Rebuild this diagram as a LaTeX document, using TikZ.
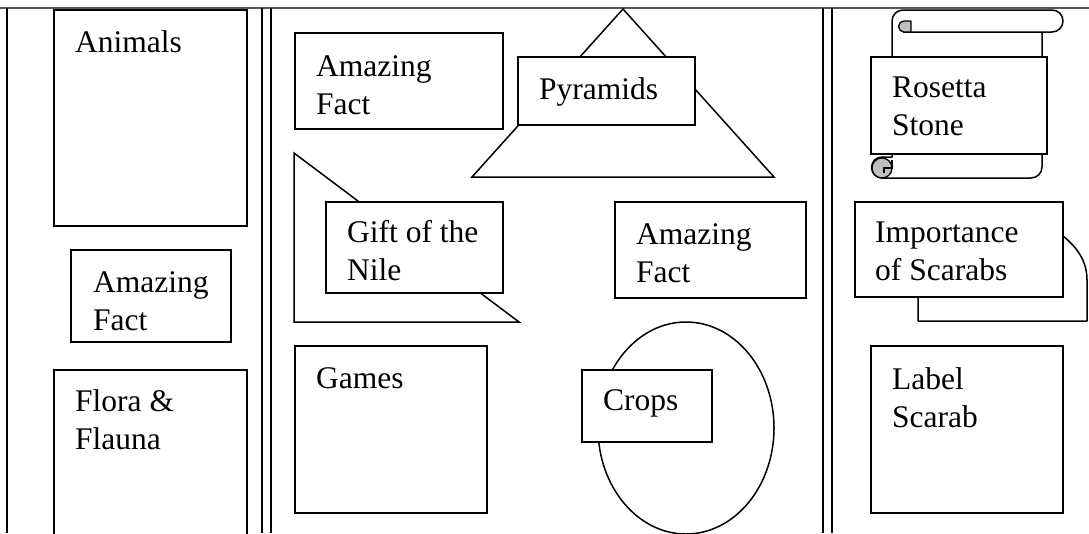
\documentclass[tikz,border=0pt]{standalone}
\usepackage{fontspec}
\setmainfont{Liberation Serif}
\begin{document}
\begin{tikzpicture}[x=1pt,y=-1pt,
  box/.style={draw=black,fill=white,line width=1.9pt,inner sep=0pt,outer sep=0pt,anchor=north west},
  shp/.style={draw=black,fill=white,line width=1.5pt,line join=miter},
  curl/.style={draw=black,fill=black!25,line width=1.3pt,line join=round},
  lbl/.style={font=\fontsize{31.5}{38}\selectfont,inner sep=0pt,anchor=base west},
  frame/.style={draw=black,line width=1.9pt}]
\useasboundingbox (0,0) rectangle (1089,533);
% frame
\draw[draw=black!65,line width=1.5pt] (0,8) -- (1089,8);
\foreach \x in {7,262,271,823,832} \draw[frame] (\x,8) -- (\x,533);
% left column
\node[box,minimum width=193pt,minimum height=216pt] (animals) at (54,10) {};
\node[lbl] (animalsT) at (75,52) {Animals};
\node[box,minimum width=160pt,minimum height=92pt] (fact1) at (71,250) {};
\node[lbl] (fact1T) at (93,292) {\vtop{\hbox{Amazing}\hbox{Fact}}};
\node[box,minimum width=193pt,minimum height=180pt] (flora) at (54,370) {};
\node[lbl] (floraT) at (75,411) {\vtop{\hbox{Flora \&}\hbox{Flauna}}};
% centre column
\node[box,minimum width=208pt,minimum height=96pt] (fact2) at (295,33) {};
\node[lbl] (fact2T) at (316,76) {\vtop{\hbox{Amazing}\hbox{Fact}}};
\draw[shp] (623,9) -- (774,177) -- (472,177) -- cycle;
\node[box,minimum width=177pt,minimum height=68pt] (pyr) at (518,57) {};
\node[lbl] (pyrT) at (539,99) {Pyramids};
\draw[shp] (294,153) -- (519,322) -- (294,322) -- cycle;
\node[box,minimum width=177pt,minimum height=91pt] (gift) at (326,202) {};
\node[lbl] (giftT) at (347,242) {\vtop{\hbox{Gift of the}\hbox{Nile}}};
\node[box,minimum width=191pt,minimum height=96pt] (fact3) at (615,202) {};
\node[lbl] (fact3T) at (636,244) {\vtop{\hbox{Amazing}\hbox{Fact}}};
\node[box,minimum width=192pt,minimum height=167pt] (games) at (295,346) {};
\node[lbl] (gamesT) at (316,388) {Games};
\draw[shp] (686,428) ellipse [x radius=88,y radius=106];
\node[box,minimum width=130pt,minimum height=72pt] (crops) at (582,370) {};
\node[lbl] (cropsT) at (603,410) {Crops};
% right column: scroll (y axis points down: angle 90 = down, 270 = up)
\draw[shp,line join=round] (1042,32) -- (1042,167) arc[start angle=0,end angle=90,radius=11]
  -- (882,178) arc[start angle=90,end angle=270,radius=10.5] -- (892,157) -- (892,21)
  arc[start angle=180,end angle=270,radius=11] -- (1052,10)
  arc[start angle=270,end angle=450,radius=11] -- (903,32);
\draw[curl] (911,21) -- (904,21) arc[start angle=270,end angle=90,radius=5.5] -- (911,32) -- (911,26) -- cycle;
\draw[curl] (882,168) circle[radius=10];
\draw[line width=1.3pt] (892,160) -- (892,168) -- (884,168) -- (884,173);
\node[box,minimum width=176pt,minimum height=97pt] (rosetta) at (871,57) {};
\node[lbl] (rosettaT) at (892,97) {\vtop{\hbox{Rosetta}\hbox{Stone}}};
% scarabs
\draw[shp,line join=round] (918,236) -- (1063,236) .. controls (1078,248) and (1087,262) .. (1087,280) -- (1087,321) -- (918,321) -- cycle;
\node[box,minimum width=208pt,minimum height=95pt] (import) at (855,202) {};
\node[lbl] (importT) at (875,242) {\vtop{\hbox{Importance}\hbox{of Scarabs}}};
\node[box,minimum width=192pt,minimum height=167pt] (label) at (871,346) {};
\node[lbl] (labelT) at (892,389) {\vtop{\hbox{Label}\hbox{Scarab}}};
\end{tikzpicture}
\end{document}
